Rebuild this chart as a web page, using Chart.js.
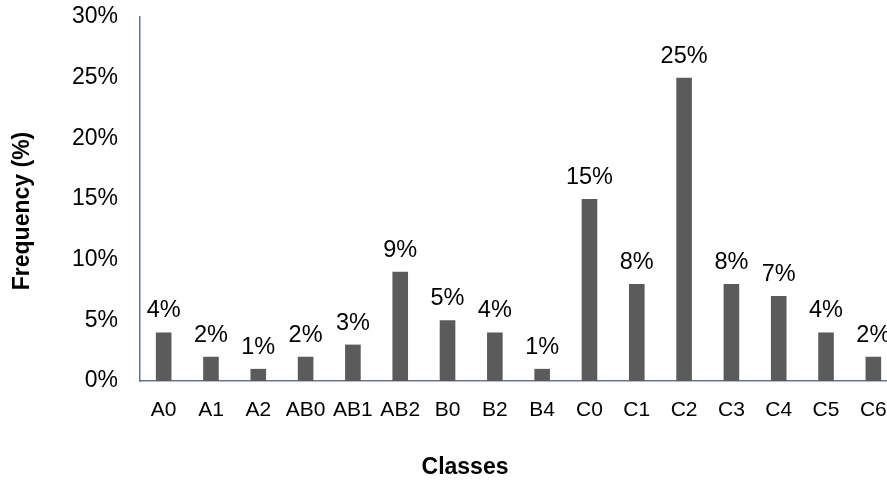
<!DOCTYPE html>
<html>
<head>
<meta charset="utf-8">
<script src="https://cdn.jsdelivr.net/npm/chart.js@4.4.1/dist/chart.umd.min.js"></script>
<style>
  html, body { margin: 0; padding: 0; background: #ffffff; overflow: hidden; }
  #wrap { width: 900px; height: 483px; }
</style>
</head>
<body>
<div id="wrap"><canvas id="c" width="900" height="483"></canvas></div>
<script>
const categories = ["A0","A1","A2","AB0","AB1","AB2","B0","B2","B4","C0","C1","C2","C3","C4","C5","C6"];
const frequency = [4,2,1,2,3,9,5,4,1,15,8,25,8,7,4,2];
const yTicks = [0,5,10,15,20,25,30];
const xTitle = "Classes";
const yTitle = "Frequency (%)";

const FONT = "Arial, 'Liberation Sans', sans-serif";

const barLabels = {
  id: 'barLabels',
  afterDatasetsDraw(chart) {
    const ctx = chart.ctx;
    const meta = chart.getDatasetMeta(0);
    ctx.save();
    ctx.font = "23.5px " + FONT;
    ctx.fillStyle = "#000000";
    ctx.textAlign = "center";
    ctx.textBaseline = "alphabetic";
    meta.data.forEach((bar, i) => {
      ctx.fillText(frequency[i] + "%", bar.x, bar.y - 15);
    });
    ctx.restore();
  }
};

const axisTitles = {
  id: 'axisTitles',
  afterDraw(chart) {
    const ctx = chart.ctx;
    ctx.save();
    ctx.font = "bold 23px " + FONT;
    ctx.fillStyle = "#000000";
    ctx.textAlign = "center";
    ctx.textBaseline = "middle";
    ctx.fillText(xTitle, 465, 468);
    ctx.translate(23, 211);
    ctx.rotate(-Math.PI / 2);
    ctx.fillText(yTitle, 0, 0);
    ctx.restore();
  }
};

new Chart(document.getElementById('c'), {
  type: 'bar',
  data: {
    labels: categories,
    datasets: [{
      data: frequency,
      backgroundColor: '#5b5b5b',
      borderWidth: 0,
      barPercentage: 0.33,
      categoryPercentage: 1.0
    }]
  },
  options: {
    responsive: false,
    animation: false,
    events: [],
    layout: { padding: { left: 0, right: 3, top: 17, bottom: 0 } },
    plugins: { legend: { display: false }, tooltip: { enabled: false } },
    scales: {
      x: {
        offset: true,
        afterFit(scale) { scale.height = 102; scale.paddingLeft = 0; scale.paddingRight = 0; },
        grid: { display: false, drawTicks: false },
        border: { display: true, color: '#687791', width: 1.5 },
        ticks: {
          color: '#000000',
          font: { family: FONT, size: 21 },
          autoSkip: false,
          maxRotation: 0,
          minRotation: 0,
          padding: 17
        }
      },
      y: {
        min: 0,
        max: 30,
        afterFit(scale) { scale.width = 140; scale.paddingTop = 0; scale.paddingBottom = 0; },
        afterBuildTicks(scale) { scale.ticks = yTicks.map(v => ({ value: v })); },
        grid: { display: false, drawTicks: false },
        border: { display: true, color: '#687791', width: 1.5 },
        ticks: {
          color: '#000000',
          font: { family: FONT, size: 23 },
          padding: 22,
          callback: v => v + '%'
        }
      }
    }
  },
  plugins: [barLabels, axisTitles]
});
</script>
</body>
</html>
